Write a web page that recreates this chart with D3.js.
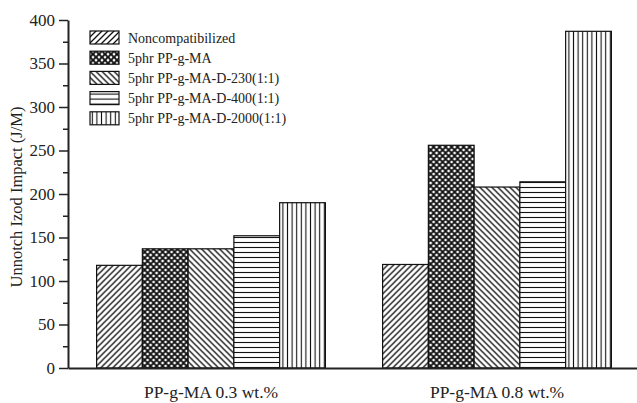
<!DOCTYPE html>
<html>
<head>
<meta charset="utf-8">
<script src="https://cdn.jsdelivr.net/npm/d3@7"></script>
<style>
  html, body { margin: 0; padding: 0; background: #fff; }
  svg { display: block; font-family: "Liberation Serif", "Times New Roman", serif; }
</style>
</head>
<body>
<svg id="chart" width="637" height="403"></svg>
<script>
const categories = ["PP-g-MA 0.3 wt.%", "PP-g-MA 0.8 wt.%"];
const seriesNames = [
  "Noncompatibilized",
  "5phr PP-g-MA",
  "5phr PP-g-MA-D-230(1:1)",
  "5phr PP-g-MA-D-400(1:1)",
  "5phr PP-g-MA-D-2000(1:1)"
];
const values03 = [118, 137, 137, 152, 190];
const values08 = [119, 256, 208, 214, 387];
const yTicks = [0, 50, 100, 150, 200, 250, 300, 350, 400];
const yTitle = "Unnotch Izod Impact (J/M)";
const patternIds = ["pDiagF", "pCross", "pDiagB", "pHoriz", "pVert"];

const seriesValues = [values03, values08];

const svg = d3.select("#chart");
const margin = { left: 68, right: -3, top: 20, bottom: 35 };
const W = 637, H = 403;

// patterns
const defs = svg.append("defs");
function pat(id, w, h, draw) {
  const p = defs.append("pattern").attr("id", id)
    .attr("patternUnits", "userSpaceOnUse").attr("width", w).attr("height", h);
  p.append("rect").attr("width", w).attr("height", h).attr("fill", "#fff");
  draw(p);
}
pat("pDiagF", 6, 6, p => {
  p.append("path").attr("d", "M-1,1 l2,-2 M0,6 l6,-6 M5,7 l2,-2")
    .attr("stroke", "#111").attr("stroke-width", 1.3);
});
pat("pDiagB", 6, 6, p => {
  p.append("path").attr("d", "M-1,5 l2,2 M0,0 l6,6 M5,-1 l2,2")
    .attr("stroke", "#111").attr("stroke-width", 1.3);
});
pat("pCross", 6, 6, p => {
  p.append("path").attr("d", "M-1,1 l2,-2 M0,6 l6,-6 M5,7 l2,-2 M-1,5 l2,2 M0,0 l6,6 M5,-1 l2,2")
    .attr("stroke", "#111").attr("stroke-width", 1.9);
});
pat("pHoriz", 5, 5, p => {
  p.append("path").attr("d", "M0,2.5 H5").attr("stroke", "#111").attr("stroke-width", 1.1);
});
pat("pVert", 4.6, 5, p => {
  p.append("path").attr("d", "M2.3,0 V5").attr("stroke", "#111").attr("stroke-width", 1.1);
});

const x0 = d3.scaleBand().domain(categories)
  .range([margin.left, W - margin.right])
  .paddingInner(0.2).paddingOuter(0.1);
const x1 = d3.scaleBand().domain(seriesNames).range([0, x0.bandwidth()]).padding(0);
const y = d3.scaleLinear().domain([0, 400]).range([H - margin.bottom, margin.top]);

// bars
const groups = svg.append("g").selectAll("g").data(categories).join("g")
  .attr("transform", d => `translate(${x0(d)},0)`);
groups.selectAll("rect")
  .data((d, i) => seriesNames.map((s, j) => ({ s, j, v: seriesValues[i][j] })))
  .join("rect")
  .attr("x", d => x1(d.s))
  .attr("y", d => y(d.v))
  .attr("width", x1.bandwidth())
  .attr("height", d => y(0) - y(d.v))
  .attr("fill", d => `url(#${patternIds[d.j]})`)
  .attr("stroke", "#111").attr("stroke-width", 1.2);

// y axis major
const yAxis = svg.append("g").attr("transform", `translate(${margin.left},0)`)
  .call(d3.axisLeft(y).tickValues(yTicks).tickSize(9).tickSizeOuter(0).tickPadding(4));
yAxis.select(".domain").attr("stroke", "#222").attr("stroke-width", 2);
yAxis.selectAll(".tick line").attr("stroke", "#222").attr("stroke-width", 1.5);
yAxis.selectAll(".tick text").attr("font-size", 17).attr("fill", "#222")
  .attr("font-family", "Liberation Serif, serif");
// minor ticks
const minor = d3.range(25, 400, 50);
svg.append("g").attr("transform", `translate(${margin.left},0)`)
  .call(d3.axisLeft(y).tickValues(minor).tickSize(5).tickFormat(""))
  .call(g => g.select(".domain").remove())
  .selectAll(".tick line").attr("stroke", "#222").attr("stroke-width", 1.5);

// x axis
const xAxis = svg.append("g").attr("transform", `translate(0,${y(0)})`)
  .call(d3.axisBottom(x0).tickSize(0).tickSizeOuter(0).tickPadding(18));
xAxis.select(".domain").attr("stroke", "#222").attr("stroke-width", 2);
xAxis.selectAll(".tick text").attr("font-size", 17.5).attr("fill", "#222")
  .attr("font-family", "Liberation Serif, serif");

// y title
svg.append("text")
  .attr("transform", `translate(22,${(y(0) + y(400)) / 2 + 3}) rotate(-90)`)
  .attr("text-anchor", "middle")
  .attr("font-size", 16.5).attr("fill", "#222")
  .text(yTitle);

// legend
const legend = svg.append("g").attr("transform", "translate(90,31)");
const li = legend.selectAll("g").data(seriesNames).join("g")
  .attr("transform", (d, i) => `translate(0,${i * 20.2})`);
li.append("rect").attr("width", 29).attr("height", 13)
  .attr("fill", (d, i) => `url(#${patternIds[i]})`)
  .attr("stroke", "#111").attr("stroke-width", 1.2);
li.append("text").attr("x", 38).attr("y", 11.5).attr("font-size", 14).attr("fill", "#222")
  .text(d => d);
</script>
</body>
</html>
